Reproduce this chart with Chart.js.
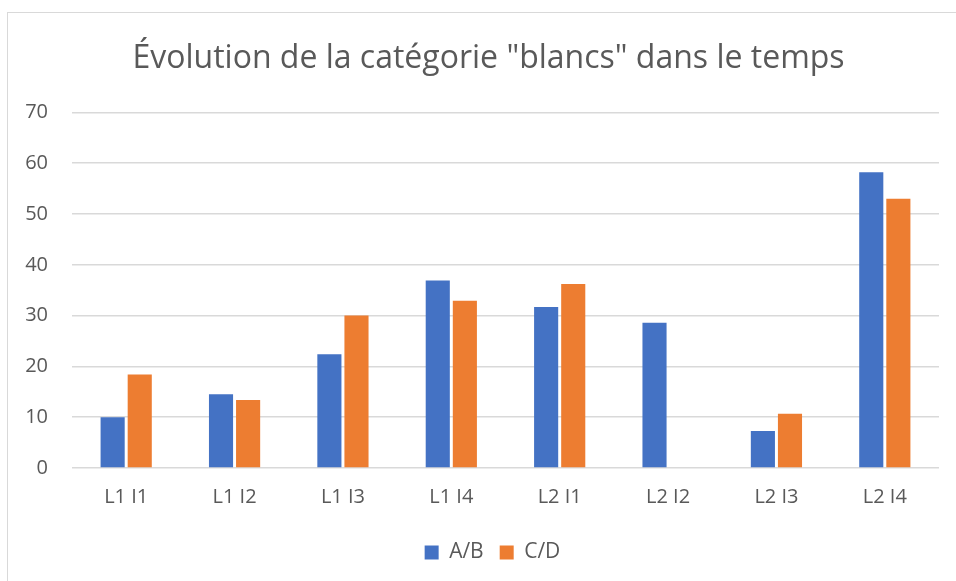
<!DOCTYPE html>
<html lang="fr">
<head>
    <meta charset="UTF-8">
    <title>Évolution de la catégorie "blancs"</title>
    <style>
        html, body {
            margin: 0;
            padding: 0;
            background: #ffffff;
            overflow: hidden;
        }
        .frame {
            position: absolute;
            left: 7px;
            top: 12px;
            width: 1000px;
            height: 700px;
            border-left: 1px solid #d9d9d9;
            border-top: 1px solid #d9d9d9;
        }
        .chart-container {
            position: absolute;
            left: 0;
            top: 0;
            width: 956px;
            height: 581px;
        }
    </style>
    <script src="https://cdn.jsdelivr.net/npm/chart.js"></script>
</head>
<body>
    <div class="frame"></div>
    <div class="chart-container">
        <canvas id="blancsChart" width="956" height="581"></canvas>
    </div>

    <script>
        // Data
        const categories = ['L1 I1', 'L1 I2', 'L1 I3', 'L1 I4', 'L2 I1', 'L2 I2', 'L2 I3', 'L2 I4'];
        const valuesAB = [10.0, 14.5, 22.4, 36.9, 31.7, 28.6, 7.3, 58.2];
        const valuesCD = [18.4, 13.4, 30.0, 32.9, 36.2, null, 10.7, 53.0];
        const yTicks = [0, 10, 20, 30, 40, 50, 60, 70];

        const textColor = '#595959';
        const gridColor = '#d9d9d9';
        const fontFamily = "'Open Sans', 'Liberation Sans', sans-serif";

        // title and legend sit a bit right of the plot centre in the original
        const shiftBlocks = {
            id: 'shiftBlocks',
            afterLayout: function(chart) {
                chart.titleBlock.left += 30;
                chart.legend.left += 38;
            }
        };

        const ctx = document.getElementById('blancsChart').getContext('2d');
        new Chart(ctx, {
            type: 'bar',
            data: {
                labels: categories,
                datasets: [
                    {
                        label: 'A/B',
                        data: valuesAB,
                        backgroundColor: '#4472c4',
                        borderWidth: 0
                    },
                    {
                        label: 'C/D',
                        data: valuesCD,
                        backgroundColor: '#ed7d31',
                        borderWidth: 0
                    }
                ]
            },
            plugins: [shiftBlocks],
            options: {
                responsive: false,
                animation: false,
                datasets: {
                    bar: {
                        categoryPercentage: 0.5,
                        barPercentage: 0.89
                    }
                },
                layout: {
                    padding: { left: 8, right: 17, top: 0, bottom: 8 }
                },
                plugins: {
                    title: {
                        display: true,
                        text: 'Évolution de la catégorie "blancs" dans le temps',
                        color: textColor,
                        font: { family: fontFamily, size: 32, weight: 'normal' },
                        padding: { top: 40, bottom: 34 }
                    },
                    legend: {
                        position: 'bottom',
                        labels: {
                            color: textColor,
                            font: { family: fontFamily, size: 21 },
                            boxWidth: 14,
                            boxHeight: 14,
                            padding: 16
                        }
                    },
                    tooltip: { enabled: false }
                },
                scales: {
                    x: {
                        grid: { display: false, drawTicks: false },
                        border: { display: false },
                        ticks: {
                            color: textColor,
                            font: { family: fontFamily, size: 20 },
                            padding: 17,
                            maxRotation: 0
                        }
                    },
                    y: {
                        min: 0,
                        max: 70,
                        afterBuildTicks: function(scale) {
                            scale.ticks = yTicks.map(function(v) { return { value: v }; });
                        },
                        afterFit: function(scale) {
                            scale.width = 64;
                        },
                        grid: {
                            color: gridColor,
                            lineWidth: 1.5,
                            drawTicks: false
                        },
                        border: { display: false },
                        ticks: {
                            color: textColor,
                            font: { family: fontFamily, size: 20 },
                            padding: 24
                        }
                    }
                }
            }
        });
    </script>
</body>
</html>
